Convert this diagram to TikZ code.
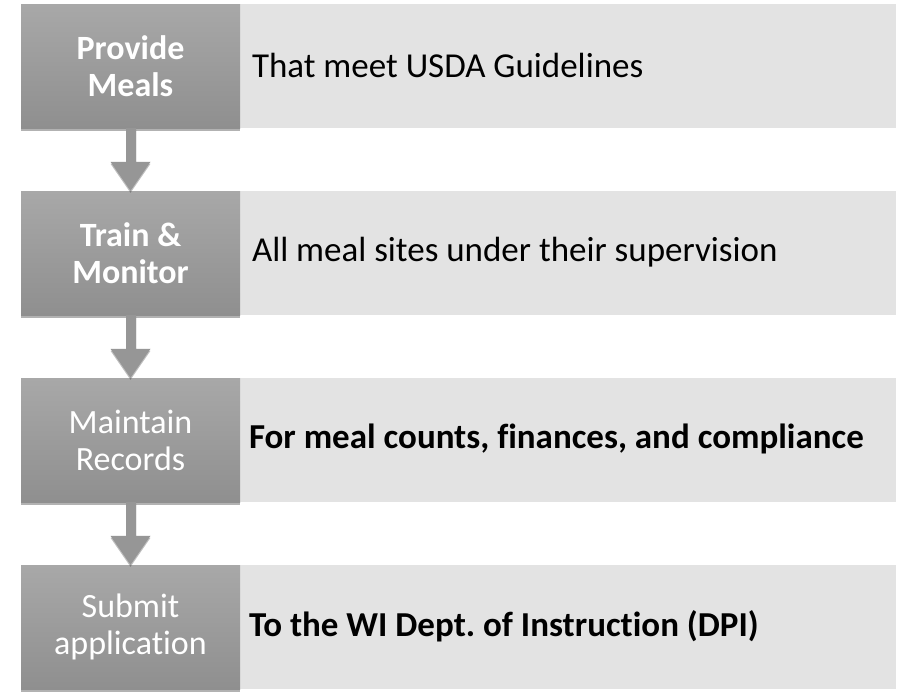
\documentclass[tikz,border=0pt]{standalone}
\usepackage{fontspec}
\setmainfont{Carlito}[Ligatures=NoCommon]
\usetikzlibrary{shadows,calc}
\definecolor{dtop}{RGB}{168,168,168}
\definecolor{dbot}{RGB}{143,143,143}
\definecolor{lbox}{RGB}{227,227,227}
\definecolor{arr}{RGB}{150,150,150}
\begin{document}
\frenchspacing
\begin{tikzpicture}[x=1pt,y=-1pt,
  darkbox/.style={rectangle, minimum width=219pt, minimum height=124pt, inner sep=0pt,
    top color=dtop, bottom color=dbot, draw=none, text=white, align=center,
    font=\fontsize{34}{37}\selectfont,
    drop shadow={shadow xshift=0pt, shadow yshift=-3pt, opacity=0.3, fill=black}},
  lightbox/.style={rectangle, minimum width=656pt, minimum height=124pt, inner sep=0pt,
    fill=lbox, draw=none},
  rtext/.style={anchor=west, inner sep=0pt, text=black, font=\fontsize{35}{39}\selectfont},
  arrowfill/.style={fill=arr, draw=none,
    drop shadow={shadow xshift=0pt, shadow yshift=-2pt, opacity=0.25, fill=black}}]
\useasboundingbox (0,0) rectangle (897,691);
\fill[white] (0,0) rectangle (897,691);
% light boxes
\node[lightbox] (l1) at (568,66) {};
\node[lightbox] (l2) at (568,253) {};
\node[lightbox] (l3) at (568,440) {};
\node[lightbox] (l4) at (568,627) {};
\node[rtext] (t1) at ($(l1.west)+(12,-1)$) {That meet USDA Guidelines};
\node[rtext] (t2) at ($(l2.west)+(12,-1)$) {All meal sites under their supervision};
\node[rtext] (t3) at ($(l3.west)+(9,-1)$) {\bfseries For meal counts, finances, and compliance};
\node[rtext] (t4) at ($(l4.west)+(9,-1)$) {\bfseries To the WI Dept. of Instruction (DPI)};
% dark boxes
\node[darkbox] (d1) at (130.5,66) {\bfseries Provide\\\bfseries Meals};
\node[darkbox] (d2) at (130.5,253) {\bfseries Train \&\\\bfseries Monitor};
\node[darkbox] (d3) at (130.5,440) {Maintain\\Records};
\node[darkbox] (d4) at (130.5,627) {Submit\\application};
% arrows
\foreach \a/\b in {d1/d2,d2/d3,d3/d4}{
  \path[arrowfill] ($(\a.south)+(-4.5,0)$) -- ($(\b.north)+(-4.5,-29)$) -- ($(\b.north)+(-20,-29)$)
    -- (\b.north) -- ($(\b.north)+(20,-29)$) -- ($(\b.north)+(5.5,-29)$) -- ($(\a.south)+(5.5,0)$) -- cycle;
}
\end{tikzpicture}
\end{document}
